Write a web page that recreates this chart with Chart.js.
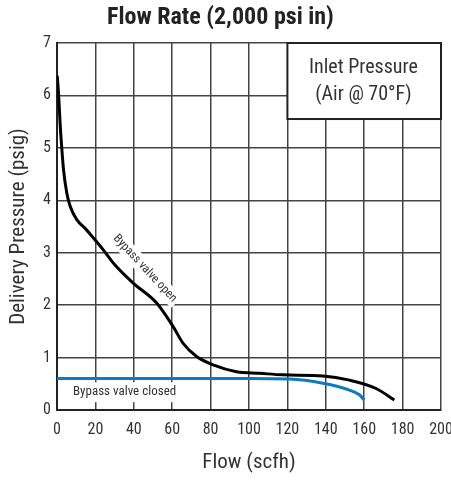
<!DOCTYPE html>
<html>
<head>
<meta charset="utf-8">
<script src="https://cdn.jsdelivr.net/npm/chart.js@4"></script>
<style>
  html, body { margin: 0; padding: 0; background: #fff; }
  canvas { display: block; }
</style>
</head>
<body>
<canvas id="flowChart" width="451" height="480"></canvas>
<script>
// --- datos ---
const openFlow = [0.1, 0.8, 1.7, 2.5, 3.4, 5.1, 6.9, 10.3, 15, 19, 24.2, 29.4, 39.7, 51.9, 60.5, 65.7, 72.7, 81.3, 93.5, 105.6, 117.7, 138.5, 152.3, 166.2, 175.7];
const openPressure = [6.38, 6.04, 5.41, 4.99, 4.58, 4.14, 3.88, 3.63, 3.45, 3.28, 3.05, 2.8, 2.42, 2.04, 1.59, 1.27, 1.02, 0.86, 0.73, 0.70, 0.67, 0.65, 0.57, 0.41, 0.19];
const closedFlow = [0, 40, 80, 100, 121, 138.5, 152.3, 157.5, 160];
const closedPressure = [0.6, 0.6, 0.6, 0.6, 0.59, 0.51, 0.38, 0.29, 0.19];
const xTicks = [0, 20, 40, 60, 80, 100, 120, 140, 160, 180, 200];
const yTicks = [0, 1, 2, 3, 4, 5, 6, 7];

// fuente condensada (tipo Helvetica Condensed)
const FONT = 'Roboto, sans-serif';
const css = (size, weight) => (weight ? weight + ' ' : '') + 'condensed ' + size + 'px ' + FONT;

const toPoints = (xs, ys) => xs.map((x, i) => ({ x: x, y: ys[i] }));

// Etiquetas y recuadro dibujados sobre las escalas
const labelsPlugin = {
    id: 'chartLabels',
    beforeDatasetsDraw(chart) {
        const { ctx, scales: { x, y } } = chart;
        ctx.save();
        ctx.textAlign = 'center';
        ctx.textBaseline = 'middle';

        // Bypass valve open (girado)
        const txt1 = 'Bypass valve open';
        ctx.font = css(12);
        ctx.save();
        ctx.translate(x.getPixelForValue(45.8), y.getPixelForValue(2.70));
        ctx.rotate(47 * Math.PI / 180);
        const w1 = ctx.measureText(txt1).width + 6;
        ctx.fillStyle = '#fff';
        ctx.fillRect(-w1 / 2, -8, w1, 16);
        ctx.fillStyle = '#333';
        ctx.fillText(txt1, 0, 0);
        ctx.restore();

        // Bypass valve closed
        const txt2 = 'Bypass valve closed';
        ctx.font = css(13);
        const cx = x.getPixelForValue(35.2), cy = y.getPixelForValue(0.34);
        const w2 = ctx.measureText(txt2).width + 10;
        ctx.fillStyle = '#fff';
        ctx.fillRect(cx - w2 / 2, cy - 10, w2, 20);
        ctx.fillStyle = '#333';
        ctx.fillText(txt2, cx, cy);
        ctx.restore();
    },
    afterDraw(chart) {
        const { ctx, scales: { x, y } } = chart;
        const left = x.getPixelForValue(120), right = x.getPixelForValue(200);
        const top = y.getPixelForValue(7), bottom = y.getPixelForValue(5.55);
        ctx.save();
        ctx.fillStyle = '#fff';
        ctx.fillRect(left, top, right - left, bottom - top);
        ctx.strokeStyle = '#222';
        ctx.lineWidth = 2;
        ctx.strokeRect(left, top, right - left, bottom - top);
        ctx.fillStyle = '#333';
        ctx.font = css(20);
        ctx.textAlign = 'center';
        ctx.textBaseline = 'middle';
        const cx = x.getPixelForValue(159.6);
        ctx.fillText('Inlet Pressure', cx, y.getPixelForValue(6.52));
        ctx.fillText('(Air @ 70°F)', cx, y.getPixelForValue(6.01));
        ctx.restore();
    }
};

document.addEventListener('DOMContentLoaded', () => {
    const ctx = document.getElementById('flowChart').getContext('2d');

    new Chart(ctx, {
        type: 'line',
        data: {
            datasets: [{
                label: 'Bypass valve open',
                data: toPoints(openFlow, openPressure),
                borderColor: '#000',
                borderWidth: 3,
                pointRadius: 0,
                tension: 0.4,
                cubicInterpolationMode: 'monotone',
                fill: false
            }, {
                label: 'Bypass valve closed',
                data: toPoints(closedFlow, closedPressure),
                borderColor: '#0b7bc2',
                borderWidth: 3,
                pointRadius: 0,
                tension: 0.4,
                cubicInterpolationMode: 'monotone',
                fill: false
            }]
        },
        options: {
            responsive: false,
            animation: false,
            layout: { padding: { left: 0, right: 10, top: 0, bottom: 0 }, autoPadding: false },
            plugins: {
                legend: { display: false },
                tooltip: { enabled: false },
                title: {
                    display: true,
                    text: 'Flow Rate (2,000 psi in)',
                    color: '#222',
                    font: { family: FONT, size: 24, weight: 'bold condensed', lineHeight: 1 },
                    padding: { top: 6, bottom: 13 }
                }
            },
            scales: {
                x: {
                    type: 'linear',
                    min: 0,
                    max: 200,
                    afterBuildTicks: (scale) => { scale.ticks = xTicks.map(v => ({ value: v })); },
                    afterFit: (scale) => { scale.height = 70; scale.paddingLeft = 0; scale.paddingRight = 0; },
                    grid: { color: '#444', lineWidth: 1.5, drawTicks: false },
                    border: { color: '#222', width: 2 },
                    ticks: { color: '#333', padding: 10, maxRotation: 0, font: { family: FONT, size: 16, weight: 'condensed' } },
                    title: {
                        display: true,
                        text: 'Flow (scfh)',
                        color: '#333',
                        padding: 5,
                        font: { family: FONT, size: 21, weight: 'condensed' }
                    }
                },
                y: {
                    type: 'linear',
                    min: 0,
                    max: 7,
                    afterBuildTicks: (scale) => { scale.ticks = yTicks.map(v => ({ value: v })); },
                    afterFit: (scale) => { scale.width = 57; scale.paddingTop = 0; scale.paddingBottom = 0; },
                    grid: { color: '#444', lineWidth: 1.5, drawTicks: false },
                    border: { color: '#222', width: 2 },
                    ticks: { color: '#333', padding: 6, font: { family: FONT, size: 16, weight: 'condensed' } },
                    title: {
                        display: true,
                        text: 'Delivery Pressure (psig)',
                        color: '#333',
                        padding: 6,
                        font: { family: FONT, size: 21, weight: 'condensed' }
                    }
                }
            }
        },
        plugins: [labelsPlugin]
    });
});
</script>
</body>
</html>
